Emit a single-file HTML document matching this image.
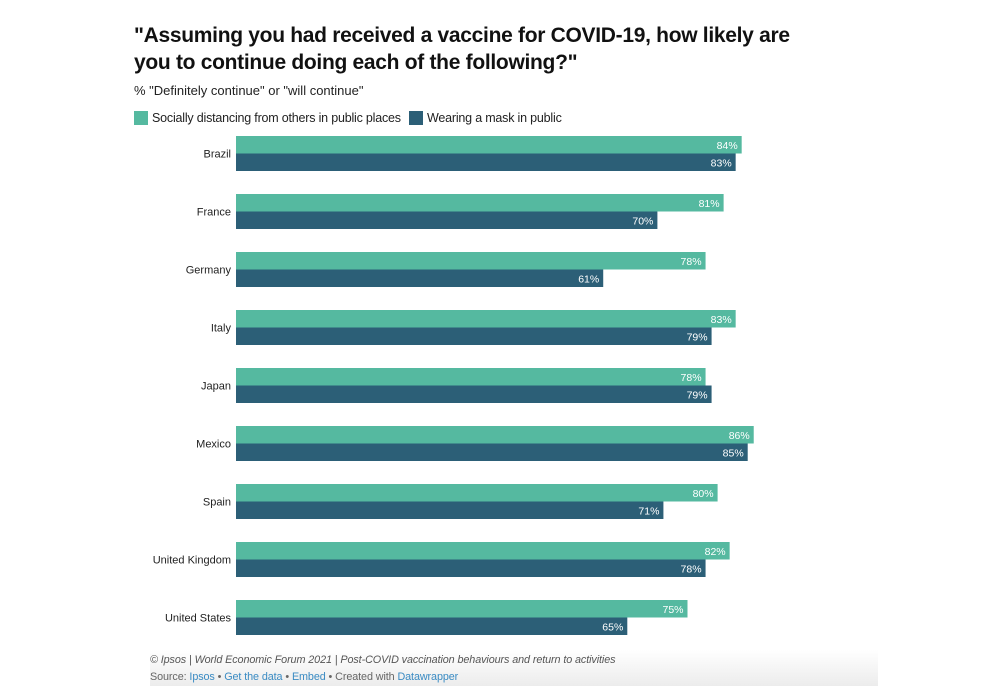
<!DOCTYPE html>
<html><head><meta charset="utf-8"><style>
body{margin:0;width:1000px;height:692px;background:#fff;font-family:"Liberation Sans",sans-serif;position:relative;overflow:hidden}
.t{position:absolute;left:134px;top:22px;font-size:21px;font-weight:bold;color:#111;line-height:27px;width:670px;letter-spacing:-0.3px}
.st{position:absolute;left:134px;top:83px;font-size:13px;color:#222}
.lg{position:absolute;top:111px;font-size:12.5px;color:#222;display:flex;align-items:center;letter-spacing:-0.2px}
.sw{width:14px;height:14px;margin-right:4px;display:inline-block}
.foot{position:absolute;left:150px;top:650px;width:728px;height:36px;background:linear-gradient(#fff,#ececec)}
.f1{position:absolute;left:150px;top:654px;font-size:10.8px;font-style:italic;color:#555;letter-spacing:-0.1px}
.f2{position:absolute;left:150px;top:671px;font-size:10.8px;color:#666;letter-spacing:-0.1px}
.f2 a{color:#3a8bc3;text-decoration:none}
</style></head><body>
<div class="t">"Assuming you had received a vaccine for COVID-19, how likely are you to continue doing each of the following?"</div>
<div class="st">% "Definitely continue" or "will continue"</div>
<div class="lg" style="left:134px"><span class="sw" style="background:#55b9a0"></span>Socially distancing from others in public places</div>
<div class="lg" style="left:409px"><span class="sw" style="background:#2c5f77"></span>Wearing a mask in public</div>
<svg id="ch" width="1000" height="692" style="position:absolute;left:0;top:0"></svg>
<div class="foot"></div>
<div class="f1">© Ipsos | World Economic Forum 2021 | Post-COVID vaccination behaviours and return to activities</div>
<div class="f2">Source: <a>Ipsos</a> • <a>Get the data</a> • <a>Embed</a> • Created with <a>Datawrapper</a></div>
<script>
const categories=["Brazil","France","Germany","Italy","Japan","Mexico","Spain","United Kingdom","United States"];
const distancing=[84,81,78,83,78,86,80,82,75];
const mask=[83,70,61,79,79,85,71,78,65];
const NS="http://www.w3.org/2000/svg";
const svg=document.getElementById('ch');
const x=v=>236+v*6.02;
const y=i=>136+i*58;
const bh=17.5;
function mk(t,a){const e=document.createElementNS(NS,t);for(const k in a)e.setAttribute(k,a[k]);svg.appendChild(e);return e;}
categories.forEach((c,i)=>{
  const l=mk('text',{x:231,y:y(i)+bh+4,'text-anchor':'end','font-size':'11','fill':'#222','font-family':'Liberation Sans, sans-serif'});
  l.textContent=c;
  
  
  [[distancing,'#55b9a0',0],[mask,'#2c5f77',bh]].forEach(([arr,col,off])=>{
    const r=mk('rect',{x:x(0),y:y(i)+off,width:x(arr[i])-x(0),height:bh,fill:col});
    
    
    const v=mk('text',{x:x(arr[i])-4,y:y(i)+off+bh/2+4,'text-anchor':'end','font-size':'10.5','fill':'#fff','font-family':'Liberation Sans, sans-serif'});
    v.textContent=arr[i]+'%';
    
    
  });
});
</script>
</body></html>
